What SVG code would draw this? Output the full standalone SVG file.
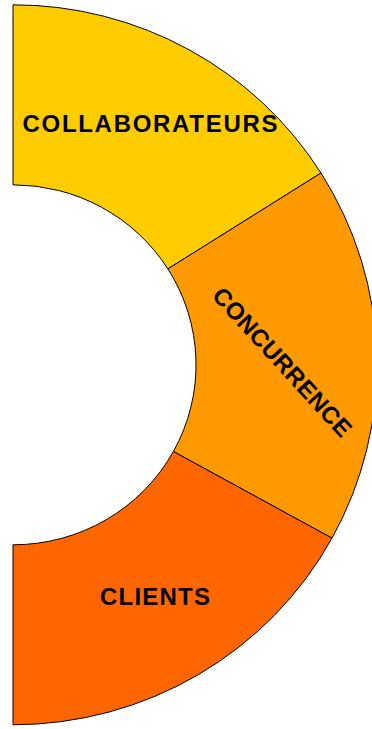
<svg xmlns="http://www.w3.org/2000/svg" width="372" height="729" viewBox="0 0 372 729">
<style>
.seg{stroke:#000;stroke-width:1;stroke-linejoin:round}
.lbl{font-family:"Liberation Sans",Arial,sans-serif;font-weight:bold;font-size:24px;fill:#000;text-anchor:middle}
</style>
<rect width="372" height="729" fill="#fff"/>
<g id="collaborateurs">
<path class="seg" fill="#FFCC00" d="M13,4.8 A364,360 0 0,1 321,173 L167.9,268.9 A183,180 0 0,0 13,184.8 Z"/>
<text class="lbl" x="150" y="132" textLength="255" lengthAdjust="spacing">COLLABORATEURS</text>
</g>
<g id="concurrence">
<path class="seg" fill="#FF9900" d="M321,173 A364,360 0 0,1 332,538.2 L173.4,451.5 A183,180 0 0,0 167.9,268.9 Z"/>
<text class="lbl" transform="translate(282.4,362) rotate(47.5)" x="0" y="8.5" textLength="193" lengthAdjust="spacing">CONCURRENCE</text>
</g>
<g id="clients">
<path class="seg" fill="#FF6600" d="M332,538.2 A364,360 0 0,1 13,724.8 L13,544.8 A183,180 0 0,0 173.4,451.5 Z"/>
<text class="lbl" x="155" y="604.5" textLength="110" lengthAdjust="spacing">CLIENTS</text>
</g>
<g id="connectors"></g>
</svg>
